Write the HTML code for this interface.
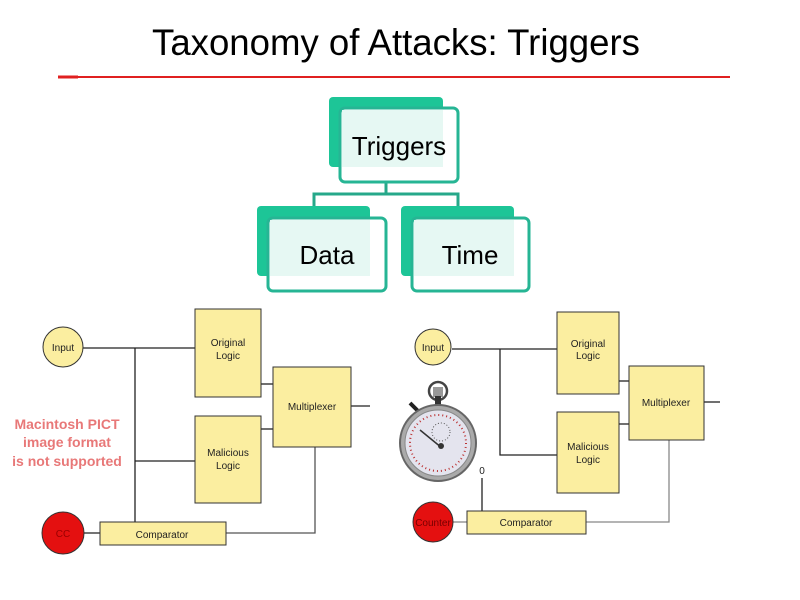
<!DOCTYPE html>
<html><head><style>
body{margin:0;background:#fff;}
</style></head><body>
<svg width="800" height="600" xmlns="http://www.w3.org/2000/svg" style="display:block;font-family:'Liberation Sans',sans-serif">
<text x="396" y="55" font-size="36.6" text-anchor="middle" fill="#000">Taxonomy of Attacks: Triggers</text>
<line x1="58" y1="77" x2="730" y2="77" stroke="#e02020" stroke-width="2"/>
<line x1="58" y1="77" x2="78" y2="77" stroke="#e02020" stroke-width="3"/>

<!-- tree -->
<g stroke="#26a88a" stroke-width="3" fill="none">
<line x1="386" y1="180" x2="386" y2="194"/>
<polyline points="314,206 314,194 458,194 458,206"/>
</g>
<rect x="329" y="97" width="114" height="70" rx="4" fill="#1dc597"/>
<rect x="340" y="108" width="118" height="74" rx="5" fill="#fff" stroke="#26b594" stroke-width="3"/>
<rect x="342" y="110" width="101" height="57" fill="#e6f8f3"/>
<text x="399" y="155" font-size="26" text-anchor="middle">Triggers</text>
<rect x="257" y="206" width="113" height="70" rx="4" fill="#1dc597"/>
<rect x="268" y="218" width="118" height="73" rx="5" fill="#fff" stroke="#26b594" stroke-width="3"/>
<rect x="270" y="220" width="100" height="56" fill="#e6f8f3"/>
<text x="327" y="264" font-size="26" text-anchor="middle">Data</text>
<rect x="401" y="206" width="113" height="70" rx="4" fill="#1dc597"/>
<rect x="412" y="218" width="117" height="73" rx="5" fill="#fff" stroke="#26b594" stroke-width="3"/>
<rect x="414" y="220" width="100" height="56" fill="#e6f8f3"/>
<text x="470" y="264" font-size="26" text-anchor="middle">Time</text>

<!-- left diagram -->
<g stroke="#222" stroke-width="1.3" fill="none">
<line x1="83" y1="348" x2="195" y2="348"/>
<line x1="135" y1="348" x2="135" y2="522"/>
<line x1="135" y1="461" x2="195" y2="461"/>
<line x1="261" y1="384" x2="273" y2="384"/>
<line x1="261" y1="429" x2="273" y2="429"/>
<line x1="351" y1="406" x2="370" y2="406"/>
<line x1="83" y1="533" x2="100" y2="533"/>
<polyline points="226,533 315,533 315,447" stroke="#555"/>
</g>
<g fill="#fbeea0" stroke="#333" stroke-width="1">
<circle cx="63" cy="347" r="20"/>
<rect x="195" y="309" width="66" height="88"/>
<rect x="195" y="416" width="66" height="87"/>
<rect x="273" y="367" width="78" height="80"/>
<rect x="100" y="522" width="126" height="23"/>
</g>
<circle cx="63" cy="533" r="21" fill="#e41010" stroke="#333"/>
<g font-size="10" text-anchor="middle" fill="#222">
<text x="63" y="351">Input</text>
<text x="228" y="346">Original</text><text x="228" y="359">Logic</text>
<text x="228" y="456">Malicious</text><text x="228" y="469">Logic</text>
<text x="312" y="410">Multiplexer</text>
<text x="162" y="538">Comparator</text>
<text x="63" y="537" fill="#900">CC</text>
</g>
<g font-size="14" font-weight="bold" fill="#e87878" text-anchor="middle">
<text x="67" y="429">Macintosh PICT</text>
<text x="67" y="447">image format</text>
<text x="67" y="466">is not supported</text>
</g>

<!-- right diagram -->
<g stroke="#222" stroke-width="1.3" fill="none">
<line x1="452" y1="349" x2="557" y2="349"/>
<polyline points="500,349 500,455 557,455"/>
<line x1="619" y1="381" x2="629" y2="381"/>
<line x1="619" y1="424" x2="629" y2="424"/>
<line x1="704" y1="402" x2="720" y2="402"/>
<line x1="482" y1="511" x2="482" y2="478"/>
<polyline points="586,522 669,522 669,440" stroke="#888"/>
<line x1="453" y1="522" x2="467" y2="522" stroke="#888"/>
</g>
<g fill="#fbeea0" stroke="#333" stroke-width="1">
<circle cx="433" cy="347" r="18"/>
<rect x="557" y="312" width="62" height="82"/>
<rect x="557" y="412" width="62" height="81"/>
<rect x="629" y="366" width="75" height="74"/>
<rect x="467" y="511" width="119" height="23"/>
</g>
<circle cx="433" cy="522" r="20" fill="#e41010" stroke="#333"/>
<g font-size="10" text-anchor="middle" fill="#222">
<text x="433" y="351">Input</text>
<text x="588" y="347">Original</text><text x="588" y="359">Logic</text>
<text x="588" y="450">Malicious</text><text x="588" y="463">Logic</text>
<text x="666" y="406">Multiplexer</text>
<text x="526" y="526">Comparator</text>
<text x="433" y="526" fill="#700">Counter</text>
<text x="482" y="474">0</text>
</g>
<!-- stopwatch -->
<circle cx="438" cy="391" r="9" fill="none" stroke="#444" stroke-width="2.5"/>
<rect x="433" y="387" width="10" height="10" fill="#999"/>
<rect x="435" y="396" width="6" height="10" fill="#333"/>
<line x1="410" y1="403" x2="420" y2="413" stroke="#222" stroke-width="4"/>
<circle cx="438" cy="443" r="38" fill="#aaa" stroke="#666" stroke-width="2"/>
<circle cx="438" cy="443" r="33" fill="#e4e4ee" stroke="#888" stroke-width="1"/>
<circle cx="438" cy="443" r="28" fill="none" stroke="#b33" stroke-width="2" stroke-dasharray="1 3"/>
<circle cx="441" cy="432" r="9" fill="none" stroke="#555" stroke-width="1" stroke-dasharray="1 2"/>
<line x1="420" y1="430" x2="442" y2="448" stroke="#333" stroke-width="1.5"/>
<circle cx="441" cy="446" r="3" fill="#333"/>
</svg>
</body></html>
